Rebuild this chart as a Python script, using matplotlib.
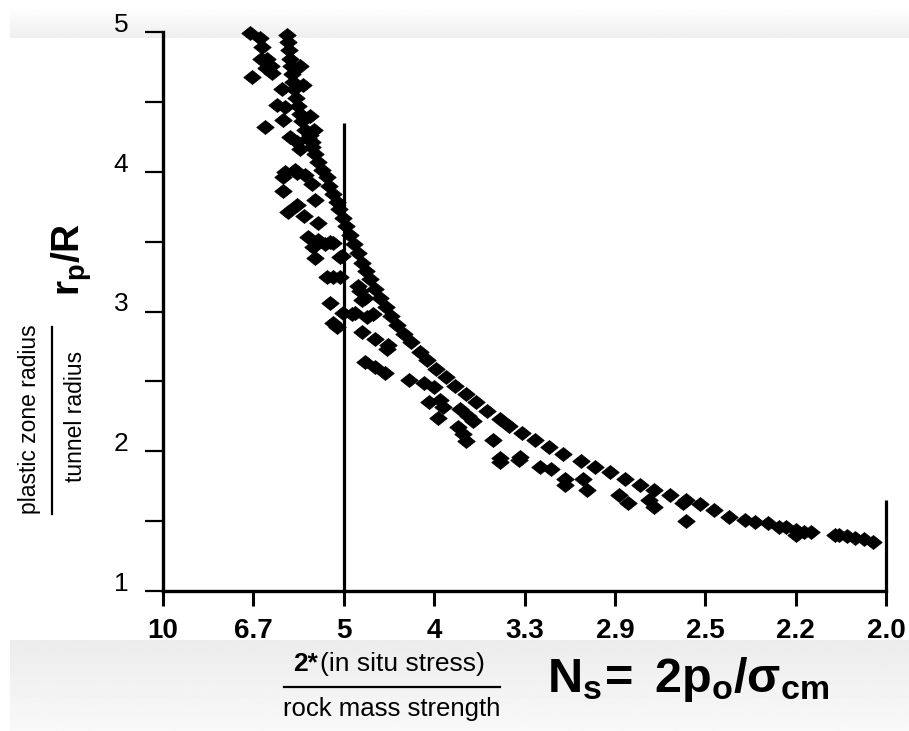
import numpy as np
import matplotlib
matplotlib.use("Agg")
import matplotlib.pyplot as plt
from matplotlib.path import Path
from matplotlib.ticker import NullLocator, FixedLocator, FixedFormatter
from matplotlib.transforms import ScaledTranslation

plt.rcParams['font.family'] = ['Liberation Sans', 'DejaVu Sans']
plt.rcParams['mathtext.fontset'] = 'custom'
plt.rcParams['mathtext.rm'] = 'Liberation Sans'
plt.rcParams['mathtext.bf'] = 'Liberation Sans:bold'
plt.rcParams['mathtext.it'] = 'Liberation Sans:italic'

# ---------------- data (Ns, rp/R) ----------------
curve_ns = [5.93, 5.91, 5.89, 5.87, 5.85, 5.83, 5.82, 5.80, 5.76, 5.73, 5.69, 5.66,
            5.60, 5.55, 5.48, 5.43, 5.38, 5.32, 5.25, 5.21, 5.16, 5.10, 5.06, 5.01,
            4.97, 4.92, 4.86, 4.81, 4.76, 4.71, 4.66, 4.60, 4.55, 4.48, 4.42, 4.36,
            4.29, 4.22, 4.13, 4.06, 3.98, 3.90, 3.82, 3.74, 3.66, 3.58, 3.49, 3.43,
            3.35, 3.27, 3.19, 3.11, 3.02, 2.95, 2.88, 2.81, 2.75, 2.69, 2.63, 2.57,
            2.52, 2.47, 2.42, 2.37, 2.34, 2.30, 2.27, 2.25, 2.22, 2.22, 2.20, 2.18,
            2.12, 2.11, 2.09, 2.07, 2.05, 2.03]
curve_r = [4.98, 4.93, 4.87, 4.81, 4.76, 4.70, 4.64, 4.59, 4.53, 4.47, 4.41, 4.36,
           4.30, 4.24, 4.18, 4.13, 4.07, 4.01, 3.96, 3.90, 3.84, 3.78, 3.73, 3.67,
           3.61, 3.55, 3.48, 3.42, 3.35, 3.29, 3.23, 3.16, 3.10, 3.03, 2.97, 2.90,
           2.84, 2.78, 2.71, 2.65, 2.59, 2.53, 2.47, 2.41, 2.35, 2.29, 2.23, 2.18,
           2.13, 2.08, 2.03, 1.98, 1.93, 1.89, 1.85, 1.80, 1.76, 1.72, 1.69, 1.65,
           1.62, 1.58, 1.53, 1.51, 1.495, 1.49, 1.46, 1.46, 1.44, 1.40, 1.42, 1.42,
           1.40, 1.40, 1.39, 1.38, 1.37, 1.35]

scatter_ns = [6.75, 6.51, 6.46, 6.48, 6.34, 6.26, 6.37, 6.24, 6.70, 6.03, 6.13, 5.97,
              6.01, 6.39, 5.87, 5.74, 5.69, 5.52, 5.48, 5.97, 5.78, 6.01, 5.74, 5.60,
              6.01, 5.48, 5.43, 5.74, 5.91, 5.62, 5.38, 5.55, 5.38, 5.20, 5.46, 5.27,
              5.43, 5.24, 5.05, 5.05, 5.20, 5.01, 5.15, 4.85, 4.81, 4.76, 5.15, 5.03,
              5.15, 4.79, 4.72, 4.89, 4.70, 4.63, 5.10, 4.76, 4.60, 4.46, 4.72, 4.60,
              4.49, 4.47, 4.24, 4.09, 4.00, 4.05, 3.95, 3.92, 3.97, 3.78, 3.72, 3.68,
              3.80, 3.76, 3.74, 3.54, 3.49, 3.36, 3.49, 3.37, 3.24, 3.18, 3.10, 3.10,
              3.01, 2.99, 2.84, 2.80, 2.71, 2.69, 2.58, 2.57, 5.69, 5.64, 5.52, 5.45]
scatter_r = [4.99, 4.96, 4.89, 4.81, 4.81, 4.76, 4.74, 4.71, 4.68, 4.59, 4.48, 4.46,
             4.37, 4.32, 4.25, 4.21, 4.16, 4.26, 4.21, 4.00, 4.01, 3.96, 3.99, 3.98,
             3.86, 3.91, 3.80, 3.76, 3.71, 3.68, 3.63, 3.53, 3.51, 3.50, 3.46, 3.48,
             3.38, 3.25, 3.39, 3.25, 3.06, 2.99, 2.92, 2.99, 3.18, 3.08, 3.49, 3.40,
             3.25, 3.15, 3.10, 2.98, 2.96, 2.98, 2.89, 2.85, 2.80, 2.76, 2.64, 2.60,
             2.56, 2.73, 2.51, 2.49, 2.46, 2.35, 2.37, 2.32, 2.24, 2.30, 2.25, 2.22,
             2.17, 2.12, 2.07, 2.08, 1.95, 1.96, 1.92, 1.94, 1.89, 1.87, 1.80, 1.76,
             1.80, 1.72, 1.69, 1.63, 1.65, 1.60, 1.63, 1.50, 4.76, 4.62, 4.40, 4.30]

xtick_vals = [10, 20 / 3, 5, 4, 10 / 3, 20 / 7, 2.5, 20 / 9, 2.0]
xtick_labels = ['10', '6.7', '5', '4', '3.3', '2.9', '2.5', '2.2', '2.0']
ytick_major = [1, 2, 3, 4, 5]
ytick_minor = [1.5, 2.5, 3.5, 4.5]
ref_lines = [(5.0, 4.35), (2.0, 1.65)]

# ---------------- figure ----------------
W, H = 909, 731
fig = plt.figure(figsize=(W / 100, H / 100), dpi=100)
fig.patch.set_facecolor('white')

def fx(px):
    return px / W

def fy(py):
    return 1 - py / H

# background slide bands
bg = fig.add_axes([0, 0, 1, 1], zorder=-10)
bg.set_axis_off()
top_grad = np.linspace(1.0, 0.935, 40)[:, None] * np.ones((1, 2))
bg.imshow(top_grad, cmap='gray', vmin=0, vmax=1, extent=(10, W, 38, 7),
          aspect='auto', interpolation='bilinear')
bot_grad = np.linspace(0.925, 0.975, 60)[:, None] * np.ones((1, 2))
bg.imshow(bot_grad, cmap='gray', vmin=0, vmax=1, extent=(10, W, H, 640),
          aspect='auto', interpolation='bilinear')
bg.set_xlim(0, W)
bg.set_ylim(H, 0)

ax = fig.add_axes([fx(163), fy(591), (886 - 163) / W, (591 - 32) / H])
ax.patch.set_visible(False)


def fwd(x):
    # monotonically increasing transform: position ~ -20/Ns
    x = np.asarray(x, dtype=float)
    with np.errstate(divide='ignore', invalid='ignore'):
        return -20.0 / x


ax.set_xlim(2.0, 10)
ax.set_xscale('function', functions=(fwd, fwd))
ax.set_xlim(10, 2.0)
ax.set_ylim(1, 5)
ax.set_autoscale_on(False)

diamond = Path([(-1.25, 0), (0, 1), (1.25, 0), (0, -1), (-1.25, 0)],
               [Path.MOVETO, Path.LINETO, Path.LINETO, Path.LINETO, Path.CLOSEPOLY])
all_ns = list(curve_ns) + list(scatter_ns)
all_r = list(curve_r) + list(scatter_r)
ax.plot(all_ns, all_r, linestyle='none', marker=diamond, ms=12.5, color='black',
        mew=0.6, mec='black', clip_on=False, zorder=3)

for xv, ytop in ref_lines:
    ax.vlines(xv, 1, ytop, color='black', lw=2.3, clip_on=False, zorder=2)

ax.set_xlim(10, 2.0)
ax.set_ylim(1, 5)

for s in ['top', 'right']:
    ax.spines[s].set_visible(False)
for s in ['left', 'bottom']:
    ax.spines[s].set_linewidth(2.4)

ax.xaxis.set_major_locator(FixedLocator(xtick_vals))
ax.xaxis.set_major_formatter(FixedFormatter(xtick_labels))
ax.xaxis.set_minor_locator(NullLocator())
ax.yaxis.set_major_locator(FixedLocator(ytick_major))
ax.yaxis.set_minor_locator(FixedLocator(ytick_minor))
ax.tick_params(axis='x', direction='out', length=10.5, width=2.2, pad=9, labelsize=20)
ax.tick_params(axis='y', which='both', direction='out', length=13, width=1.6)
ax.tick_params(axis='y', which='major', pad=12, labelsize=19)

fig.canvas.draw()
offset = ScaledTranslation(0, 7 / 72, fig.dpi_scale_trans)
for lab in ax.get_yticklabels():
    lab.set_fontsize(19)
    lab.set_transform(lab.get_transform() + offset)
for lab in ax.get_xticklabels():
    lab.set_fontsize(20)
    lab.set_fontweight('bold')

# axis labels
fig.text(fx(72), fy(259), r'$\mathbf{r_p/R}$', fontsize=28, rotation=90,
         ha='center', va='center')
fig.text(fx(30), fy(419), 'plastic zone radius', fontsize=16.5, rotation=90,
         ha='center', va='center')
fig.add_artist(plt.Line2D([fx(52), fx(52)], [fy(327), fy(514)], color='black', lw=1.6))
fig.text(fx(76), fy(416), 'tunnel radius', fontsize=16.5, rotation=90,
         ha='center', va='center')

fig.text(fx(318), fy(664), '2*', fontsize=19, fontweight='bold', ha='right', va='center')
fig.text(fx(320), fy(664), '(in situ stress)', fontsize=19, ha='left', va='center')
fig.add_artist(plt.Line2D([fx(284), fx(500)], [fy(687), fy(687)], color='black', lw=1.6))
fig.text(fx(392), fy(709), 'rock mass strength', fontsize=18.5, ha='center', va='center')

fig.text(fx(688), fy(680), r'$\mathbf{N_s\!=\ 2p_o/\sigma_{cm}}$', fontsize=35,
         ha='center', va='center')

fig.savefig('out.png', dpi=100)
